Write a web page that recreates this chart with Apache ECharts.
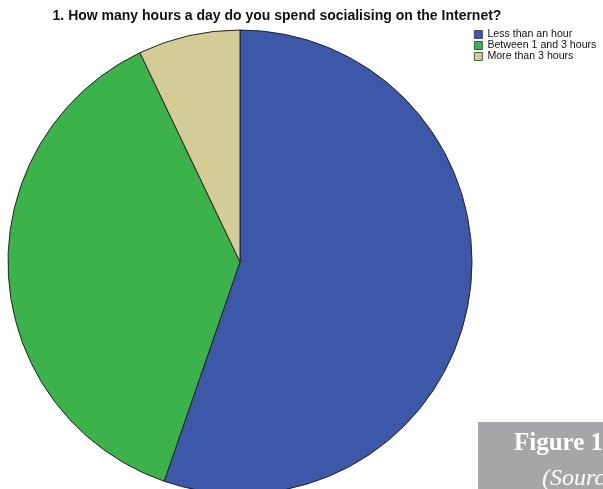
<!DOCTYPE html>
<html>
<head>
<meta charset="utf-8">
<script src="https://cdn.jsdelivr.net/npm/echarts@6/dist/echarts.min.js"></script>
<style>
  html, body { margin: 0; padding: 0; background: #fff; }
  #chart { width: 603px; height: 489px; }
</style>
</head>
<body>
<div id="chart"></div>
<script>
// answers and their share (percent)
const categories = ['Less than an hour', 'Between 1 and 3 hours', 'More than 3 hours']
const shares = [55.3, 37.6, 7.1]
const colorList = ['#3d58a8', '#3bb34a', '#d4cc97']

const chart = echarts.init(document.getElementById('chart'))

const pieData = categories.map((name, i) => ({
  name: name,
  value: shares[i],
  itemStyle: { color: colorList[i] }
}))

chart.setOption({
  animation: false,
  title: {
    text: '1. How many hours a day do you spend socialising on the Internet?',
    left: 272,
    textAlign: 'center',
    top: 4,
    textStyle: {
      fontFamily: 'Liberation Sans, Arial, sans-serif',
      fontSize: 14,
      fontWeight: 'bold',
      color: '#111'
    }
  },
  legend: {
    orient: 'vertical',
    left: 474,
    top: 29,
    padding: 0,
    itemWidth: 8,
    itemHeight: 8,
    itemGap: 0,
    icon: 'rect',
    itemStyle: { borderColor: '#333', borderWidth: 0.8 },
    textStyle: {
      fontFamily: 'Liberation Sans, Arial, sans-serif',
      fontSize: 10.6,
      lineHeight: 11,
      color: '#111'
    },
    data: categories
  },
  graphic: [
    {
      type: 'rect',
      shape: { x: 478, y: 422, width: 125, height: 67 },
      style: { fill: '#a5a6a8' },
      z: 0
    },
    {
      type: 'text',
      x: 514,
      y: 444,
      style: {
        text: 'Figure 1',
        fill: '#fff',
        verticalAlign: 'middle',
        font: 'bold 25px "Liberation Serif", "DejaVu Serif", serif'
      }
    },
    {
      type: 'text',
      x: 542,
      y: 479,
      style: {
        text: '(Source',
        fill: '#fff',
        verticalAlign: 'middle',
        font: 'italic 24px "Liberation Serif", "DejaVu Serif", serif'
      }
    }
  ],
  series: [
    {
      type: 'pie',
      center: [240, 262],
      radius: 232,
      startAngle: 90,
      clockwise: true,
      label: { show: false },
      labelLine: { show: false },
      emphasis: { disabled: true },
      itemStyle: { borderColor: '#222', borderWidth: 1 },
      data: pieData
    }
  ]
})
</script>
</body>
</html>
